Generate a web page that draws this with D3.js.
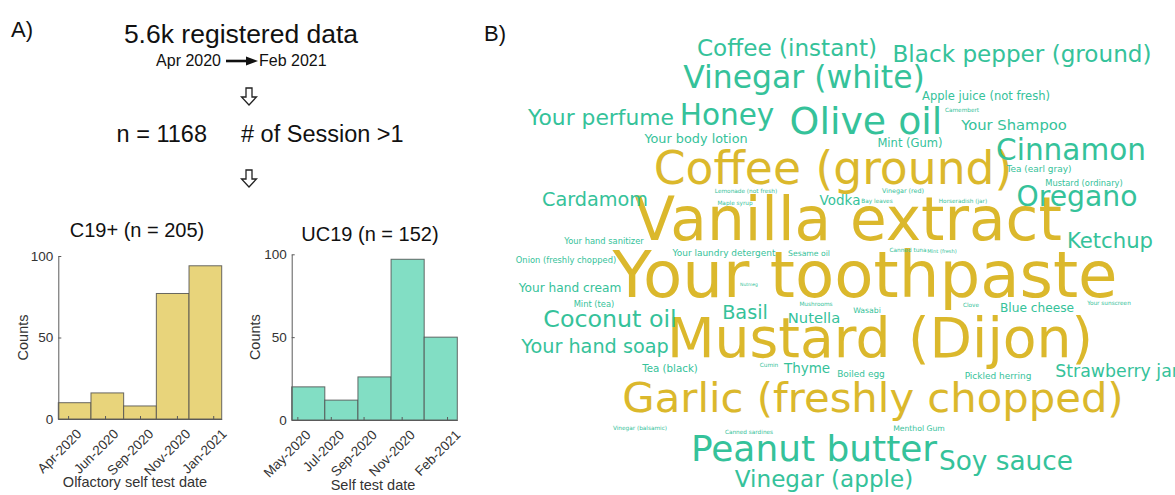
<!DOCTYPE html>
<html>
<head>
<meta charset="utf-8">
<script src="https://cdn.jsdelivr.net/npm/d3@7"></script>
<style>
  body { margin: 0; background: #fff; }
  svg { display: block; }
</style>
</head>
<body>
<svg id="fig" width="1175" height="495"></svg>
<script>
// ---- Panel A: self-test counts per date bin ----
const c19Counts = [10, 16, 8, 77, 94];
const c19TickLabels = ["Apr-2020", "Jun-2020", "Sep-2020", "Nov-2020", "Jan-2021"];
const c19TickValues = [0.30, 1.43, 2.50, 3.63, 4.74];   // in bin units

const uc19Counts = [20, 12, 26, 97, 50];
const uc19TickLabels = ["May-2020", "Jul-2020", "Sep-2020", "Nov-2020", "Feb-2021"];
const uc19TickValues = [0.17, 1.18, 2.17, 3.32, 4.69];

const countTicks = [0, 50, 100];

// ---- Panel B: odors named by participants, with relative frequency ----
const words = [
  "Your toothpaste", "Vanilla extract", "Mustard (Dijon)", "Coffee (ground)", "Garlic (freshly chopped)",
  "Olive oil", "Peanut butter", "Vinegar (white)", "Honey", "Cinnamon",
  "Oregano", "Soy sauce", "Coconut oil", "Coffee (instant)", "Black pepper (ground)",
  "Vinegar (apple)", "Your perfume", "Ketchup", "Your hand soap", "Cardamom",
  "Basil", "Strawberry jam", "Your Shampoo", "Nutella", "Thyme",
  "Vodka", "Your body lotion", "Your hand cream", "Blue cheese", "Mint (Gum)",
  "Apple juice (not fresh)", "Tea (black)", "Tea (earl gray)", "Pickled herring", "Your laundry detergent",
  "Boiled egg", "Mustard (ordinary)", "Onion (freshly chopped)", "Mint (tea)", "Your hand sanitizer",
  "Menthol Gum", "Wasabi", "Sesame oil", "Vinegar (red)", "Maple syrup",
  "Mushrooms", "Lemonade (not fresh)", "Vinegar (balsamic)", "Horseradish (jar)", "Clove",
  "Your sunscreen", "Cumin", "Canned tuna", "Camembert", "Canned sardines",
  "Bay leaves", "Mint (fresh)", "Nutmeg"
];
const wordWeights = [
  100, 93, 86, 71, 65,
  59, 56, 49, 46, 46,
  44, 41, 37, 36, 36,
  36, 34, 33, 30, 30,
  30, 27, 23, 23, 21,
  21, 20, 19, 19, 18,
  18, 16, 14, 14, 14,
  14, 13, 13, 13, 13,
  12, 12, 12, 10, 9,
  9, 9, 9, 9, 9,
  9, 9, 9, 9, 9,
  9, 8, 7
];

// word positions in the cloud: [centre x, baseline y]
const wordPlacement = [
  [865, 297], [848, 240], [880, 357], [833, 184], [873, 412],
  [866, 134], [814, 461], [804, 88], [727, 125], [1071, 160],
  [1077, 206], [1006, 470], [610, 327], [787, 56], [1022, 62],
  [824, 487], [601, 125], [1110, 248], [595, 353], [595, 206],
  [745, 319], [1122, 377], [1014, 130], [814, 323], [807, 373],
  [840, 205], [696, 143], [570, 292], [1037, 312], [910, 147],
  [986, 100], [670, 372], [1039, 172], [998, 379], [724, 256],
  [861, 377], [1084, 186], [566, 263], [594, 307], [604, 244],
  [919, 431], [867, 313], [809, 256], [903, 193], [735, 205],
  [816, 306], [746, 193], [640, 430], [963, 203], [971, 307],
  [1109, 305], [769, 367], [908, 252], [962, 112], [749, 434],
  [877, 203], [942, 253], [749, 286]
];

const svg = d3.select("#fig");
const sans = "'Liberation Sans', Arial, Helvetica, sans-serif";

// ---------- Panel A header / flow ----------
const head = svg.append("g").attr("font-family", sans).attr("fill", "#111");
head.append("text").attr("x", 11).attr("y", 37).attr("font-size", 22).text("A)");
head.append("text").attr("x", 241).attr("y", 43).attr("font-size", 26.5)
  .attr("text-anchor", "middle").text("5.6k registered data");
head.append("text").attr("x", 221).attr("y", 66).attr("font-size", 16)
  .attr("text-anchor", "end").text("Apr 2020");
head.append("text").attr("x", 259).attr("y", 66).attr("font-size", 16)
  .attr("text-anchor", "start").text("Feb 2021");
// solid arrow between the dates
head.append("line").attr("x1", 226).attr("x2", 248).attr("y1", 61).attr("y2", 61)
  .attr("stroke", "#111").attr("stroke-width", 2.6);
head.append("path").attr("d", "M246,56.5 L258,61 L246,65.5 Z").attr("fill", "#111");

head.append("text").attr("x", 207).attr("y", 142).attr("font-size", 23.5)
  .attr("text-anchor", "end").text("n = 1168");
head.append("text").attr("x", 241).attr("y", 142).attr("font-size", 23.5)
  .attr("text-anchor", "start").text("# of Session >1");

// hollow block arrows
function hollowArrow(cx, top) {
  const sw = 3, hw = 7.5, shaft = 9, headH = 8;
  return `M${cx - sw},${top} L${cx + sw},${top} L${cx + sw},${top + shaft} L${cx + hw},${top + shaft}` +
    ` L${cx},${top + shaft + headH} L${cx - hw},${top + shaft} L${cx - sw},${top + shaft} Z`;
}
[88, 170].forEach(t => {
  svg.append("path").attr("d", hollowArrow(249, t))
    .attr("fill", "#fff").attr("stroke", "#222").attr("stroke-width", 1.3)
    .attr("stroke-linejoin", "miter");
});

// ---------- Histograms ----------
function histogram(opt) {
  const g = svg.append("g").attr("font-family", sans);
  const x = d3.scaleLinear().domain([0, opt.counts.length]).range([opt.x0, opt.x1]);
  const y = d3.scaleLinear().domain([0, 100]).range([opt.yBottom, opt.yTop]);

  g.selectAll("rect.bar").data(opt.counts).join("rect")
    .attr("class", "bar")
    .attr("x", (d, i) => x(i))
    .attr("width", (d, i) => x(i + 1) - x(i))
    .attr("y", d => y(d))
    .attr("height", d => y(0) - y(d))
    .attr("fill", opt.fill)
    .attr("stroke", "#505050")
    .attr("stroke-opacity", 0.85)
    .attr("stroke-width", 1);

  const yAxis = g.append("g").attr("transform", `translate(${opt.x0},0)`)
    .call(d3.axisLeft(y).tickValues(countTicks).tickSize(-3).tickSizeOuter(0).tickPadding(5));
  const xAxis = g.append("g").attr("transform", `translate(0,${opt.yBottom})`)
    .call(d3.axisBottom(x).tickValues(opt.tickValues).tickSize(-3).tickSizeOuter(0)
      .tickFormat((d, i) => opt.tickLabels[i]));

  [yAxis, xAxis].forEach(a => {
    a.select(".domain").attr("stroke", "#5a5a5a").attr("stroke-width", 1);
    a.selectAll(".tick line").attr("stroke", "#5a5a5a");
    a.selectAll("text").attr("fill", "#333").attr("font-size", 13.5).attr("font-family", sans);
  });
  xAxis.selectAll(".tick text")
    .attr("x", 0).attr("y", 0).attr("dy", "0.71em")
    .attr("text-anchor", "end")
    .attr("transform", "translate(7,9) rotate(-45)");

  g.append("text").attr("x", opt.titleX).attr("y", opt.titleY)
    .attr("text-anchor", "middle").attr("font-size", 20).attr("fill", "#111").text(opt.title);
  g.append("text")
    .attr("transform", `translate(${opt.countsX},${(y(0) + y(100)) / 2}) rotate(-90)`)
    .attr("text-anchor", "middle").attr("font-size", 14.5).attr("fill", "#333").text("Counts");
  g.append("text").attr("x", opt.xLabelX).attr("y", opt.xLabelY)
    .attr("text-anchor", "middle").attr("font-size", 14.5).attr("fill", "#333").text(opt.xLabel);
}

histogram({
  counts: c19Counts, tickLabels: c19TickLabels, tickValues: c19TickValues,
  x0: 58.3, x1: 221.7, yBottom: 419, yTop: 256,
  fill: "#e8d47b",
  title: "C19+ (n = 205)", titleX: 137, titleY: 237,
  countsX: 28, xLabel: "Olfactory self test date", xLabelX: 135, xLabelY: 487
});
histogram({
  counts: uc19Counts, tickLabels: uc19TickLabels, tickValues: uc19TickValues,
  x0: 291.7, x1: 457.3, yBottom: 420, yTop: 254.3,
  fill: "#82dec4",
  title: "UC19 (n = 152)", titleX: 370, titleY: 241,
  countsX: 260, xLabel: "Self test date", xLabelX: 373, xLabelY: 490
});

// ---------- Panel B: word cloud ----------
svg.append("text").attr("x", 484).attr("y", 41).attr("font-family", sans)
  .attr("font-size", 22).attr("fill", "#111").text("B)");

const fontSize = d3.scaleLinear().domain([0, d3.max(wordWeights)]).range([0, 64.2]);
const rank = d3.range(words.length).sort((a, b) => wordWeights[b] - wordWeights[a]);
const topFive = new Set(rank.slice(0, 5));
const gold = "#dbb82c", teal = "#35c29a";

svg.append("g").attr("font-family", "'DejaVu Sans', Verdana, sans-serif")
  .attr("text-anchor", "middle")
  .selectAll("text").data(d3.range(words.length)).join("text")
  .attr("x", i => wordPlacement[i][0])
  .attr("y", i => wordPlacement[i][1])
  .attr("font-size", i => fontSize(wordWeights[i]))
  .attr("fill", i => topFive.has(i) ? gold : teal)
  .text(i => words[i]);
</script>
</body>
</html>
